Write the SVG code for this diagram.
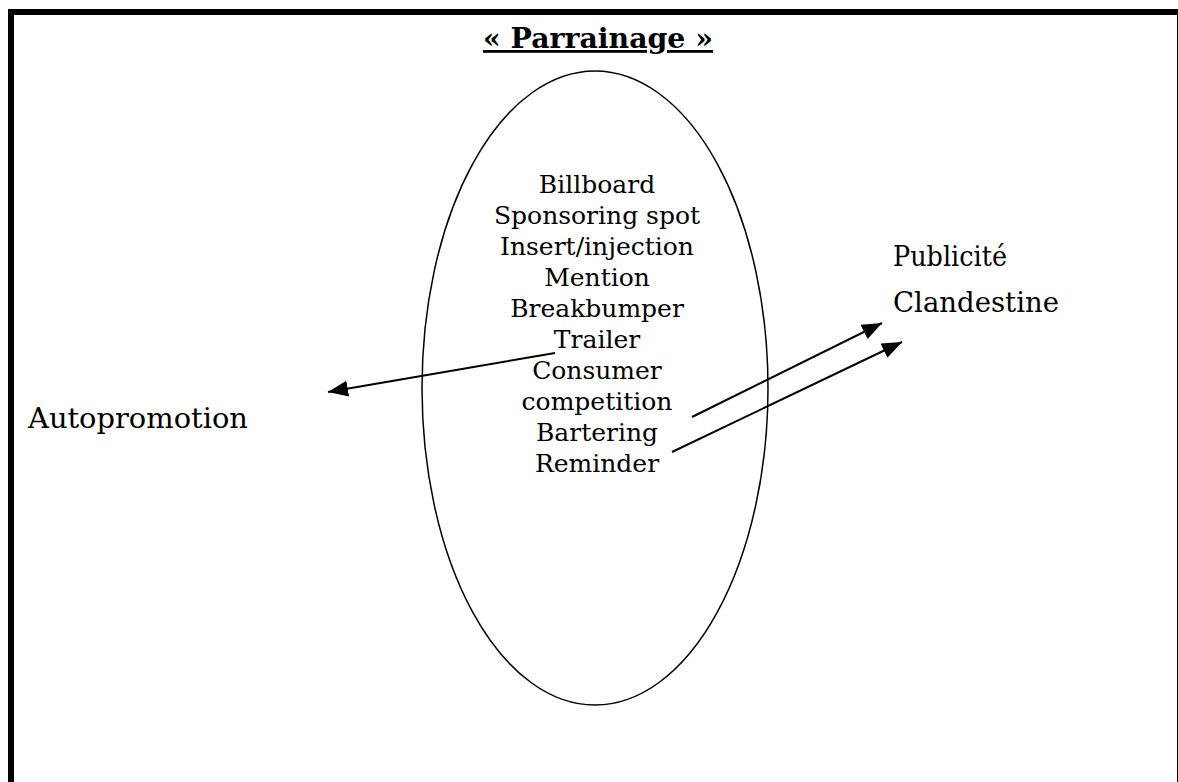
<svg xmlns="http://www.w3.org/2000/svg" width="1178" height="782" viewBox="0 0 1178 782">
<style>
.t{font-family:"DejaVu Serif","Liberation Serif",serif;font-size:25px;fill:#000;text-anchor:middle}
.l{font-family:"DejaVu Serif","Liberation Serif",serif;font-size:27px;fill:#000}
</style>
<defs>
<marker id="a" viewBox="0 0 20 16" refX="20" refY="8" markerWidth="20" markerHeight="16" markerUnits="userSpaceOnUse" orient="auto">
<path d="M0,0 L20,8 L0,16 Z" fill="#000"/>
</marker>
</defs>
<rect width="1178" height="782" fill="#fff"/>
<rect x="11" y="12" width="1169" height="800" fill="none" stroke="#000" stroke-width="6"/>
<g id="title">
<text x="598" y="48" text-anchor="middle" textLength="230" lengthAdjust="spacingAndGlyphs" style="font-family:'DejaVu Serif','Liberation Serif',serif;font-size:28px;font-weight:bold;text-decoration:underline">« Parrainage »</text>
</g>
<g id="parrainage">
<ellipse cx="595" cy="388" rx="173" ry="317" fill="none" stroke="#000" stroke-width="1.5"/>
<text class="t" x="597" y="193">Billboard</text>
<text class="t" x="597" y="224">Sponsoring spot</text>
<text class="t" x="597" y="255">Insert/injection</text>
<text class="t" x="597" y="286">Mention</text>
<text class="t" x="597" y="317">Breakbumper</text>
<text class="t" x="597" y="348">Trailer</text>
<text class="t" x="597" y="379">Consumer</text>
<text class="t" x="597" y="410">competition</text>
<text class="t" x="597" y="441">Bartering</text>
<text class="t" x="597" y="472">Reminder</text>
</g>
<g id="autopromotion">
<text class="l" x="28" y="428" textLength="220" lengthAdjust="spacingAndGlyphs">Autopromotion</text>
</g>
<g id="publicite">
<text class="l" x="893" y="266" textLength="114" lengthAdjust="spacingAndGlyphs">Publicité</text>
<text class="l" x="893" y="312" textLength="166" lengthAdjust="spacingAndGlyphs">Clandestine</text>
</g>
<g id="connectors" stroke="#000" stroke-width="2" fill="none">
<line x1="555" y1="353" x2="328" y2="392" marker-end="url(#a)"/>
<line x1="692" y1="417" x2="882" y2="323" marker-end="url(#a)"/>
<line x1="672" y1="452" x2="902" y2="342" marker-end="url(#a)"/>
</g>
</svg>
